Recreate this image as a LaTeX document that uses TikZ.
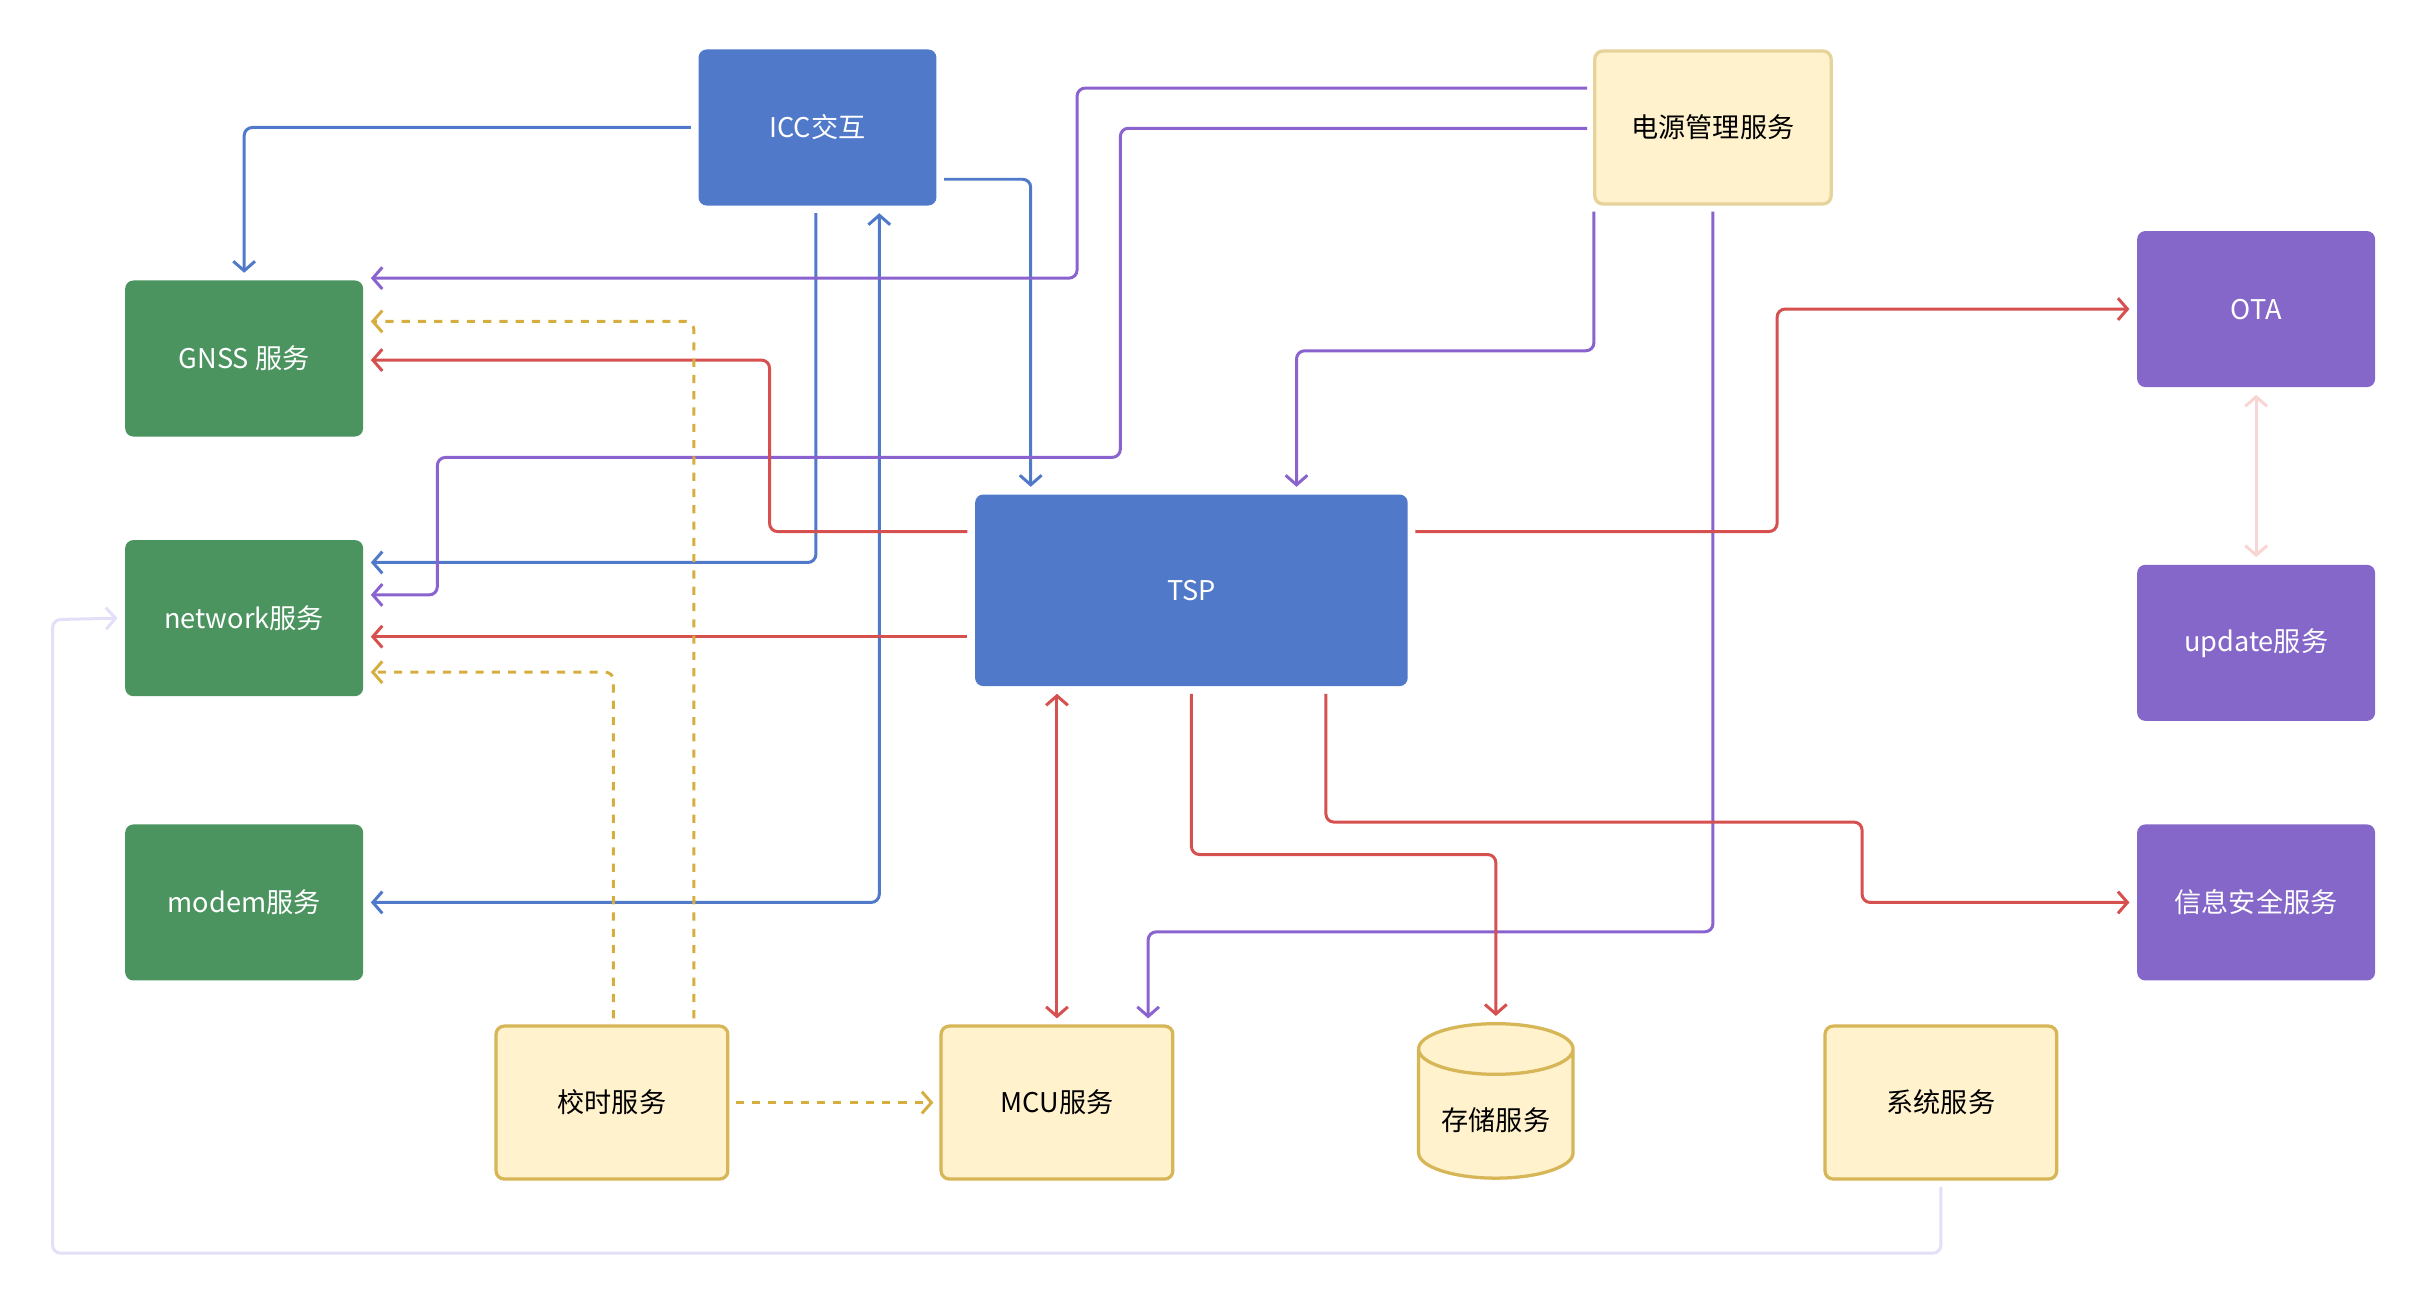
\documentclass[tikz,border=0pt]{standalone}
\usepackage{fontspec}
\setmainfont{Noto Sans CJK SC}
\usetikzlibrary{arrows.meta,shapes.geometric,calc}
\definecolor{cblue}{HTML}{5079C9}
\definecolor{cgreen}{HTML}{4B9460}
\definecolor{cpurple}{HTML}{8467C9}
\definecolor{cyfill}{HTML}{FFF2CC}
\definecolor{cgold}{HTML}{D6B656}
\definecolor{cred}{HTML}{D6504F}
\definecolor{cpline}{HTML}{8A63CF}
\definecolor{cdash}{HTML}{D6AE40}
\definecolor{clav}{HTML}{E3DFF8}
\definecolor{cpink}{HTML}{F8D5D3}
\begin{document}
\begin{tikzpicture}[x=0.02cm,y=-0.02cm,
  box/.style={rectangle,rounded corners=3pt,minimum width=3.08cm,minimum height=2.02cm,outer sep=0.1cm,font=\fontsize{10}{12}\selectfont},
  bluebox/.style={box,fill=cblue,text=white},
  greenbox/.style={box,fill=cgreen,text=white},
  purbox/.style={box,fill=cpurple,text=white},
  ybox/.style={box,fill=cyfill,draw=cgold,line width=1.2pt,minimum width=3.0cm,minimum height=1.98cm},
  con/.style={line width=1.1pt,rounded corners=3pt,-{Straight Barb[length=3.5pt,width=8pt]}},
  bl/.style={con,draw=cblue},
  pu/.style={con,draw=cpline},
  rd/.style={con,draw=cred},
  gd/.style={con,draw=cdash,dashed,dash pattern=on 3pt off 3pt}]
\useasboundingbox (0,0) rectangle (1568,848);
\node[bluebox] (icc) at (529,82.5) {ICC交互};
\node[ybox,draw=cgold!60,minimum width=3.06cm] (pwr) at (1108.5,82.5) {电源管理服务};
\node[greenbox] (gnss) at (158,232) {GNSS 服务};
\node[greenbox] (net) at (158,400) {network服务};
\node[greenbox] (modem) at (158,584) {modem服务};
\node[bluebox,minimum width=5.6cm,minimum height=2.48cm] (tsp) at (771,382) {TSP};
\node[purbox] (ota) at (1460,200) {OTA};
\node[purbox] (upd) at (1460,416) {update服务};
\node[purbox] (sec) at (1460,584) {信息安全服务};
\node[ybox] (js) at (396,713.5) {校时服务};
\node[ybox] (mcu) at (684,713.5) {MCU服务};
\node[cylinder,shape border rotate=90,aspect=0.4,fill=cyfill,draw=cgold,line width=1.2pt,minimum width=2.0cm,minimum height=2.0cm,outer sep=0.1cm,font=\fontsize{10}{12}\selectfont] (st) at (968,725) {\raisebox{-8pt}{存储服务}};
\node[ybox] (sys) at (1256,713.5) {系统服务};
% blue
\draw[bl] (icc.west) -| (gnss.north);
\draw[bl] ($(icc.east)+(0,33.5)$) -| ($(tsp.north)+(-104,0)$);
\draw[bl] ($(icc.south)+(-1,0)$) |- ($(net.east)+(0,-36)$);
\draw[bl,{Straight Barb[length=3.5pt,width=8pt]}-{Straight Barb[length=3.5pt,width=8pt]}] (modem.east) -| ($(icc.south)+(40,0)$);
% purple
\draw[pu] ($(pwr.west)+(0,-25.5)$) -- (697,57) -- (697,180) -- ($(gnss.east)+(0,-52)$);
\draw[pu] ($(pwr.west)+(0,0.5)$) -- (725,83) -- (725,296) -- (283,296) -- (283,385) -- ($(net.east)+(0,-15)$);
\draw[pu] ($(pwr.south)+(-77,0)$) -- (1031.5,227) -- (839,227) -- ($(tsp.north)+(68,0)$);
\draw[pu] (pwr.south) -- (1108.5,603) -- (743,603) -- ($(mcu.north)+(59,0)$);
% red
\draw[rd] ($(tsp.west)+(0,-38)$) -- (498,344) -- (498,233) -- ($(gnss.east)+(0,1)$);
\draw[rd] ($(tsp.west)+(0,30)$) -- ($(net.east)+(0,12)$);
\draw[rd] ($(tsp.east)+(0,-38)$) -- (1150,344) -- (1150,200) -- (ota.west);
\draw[rd,{Straight Barb[length=3.5pt,width=8pt]}-{Straight Barb[length=3.5pt,width=8pt]}] (tsp.south -| mcu.north) -- (mcu.north);
\draw[rd] (tsp.south) -- (771,553) -- (968,553) -- (st.north);
\draw[rd] ($(tsp.south)+(87,0)$) -- (858,532) -- (1205,532) -- (1205,584) -- (sec.west);
\draw[con,draw=cpink,{Straight Barb[length=3.5pt,width=8pt]}-{Straight Barb[length=3.5pt,width=8pt]}] (ota.south) -- (upd.north);
% gold dashed
\draw[gd] ($(js.north)+(53,0)$) -- (449,208) -- ($(gnss.east)+(0,-24)$);
\draw[gd] ($(js.north)+(1,0)$) -- (397,435) -- ($(net.east)+(0,35)$);
\draw[gd] (js.east) -- (mcu.west);
% lavender
\draw[con,draw=clav] (sys.south) -- (1256,811) -- (34,811) -- (34,401) -- (net.west);
\end{tikzpicture}
\end{document}
